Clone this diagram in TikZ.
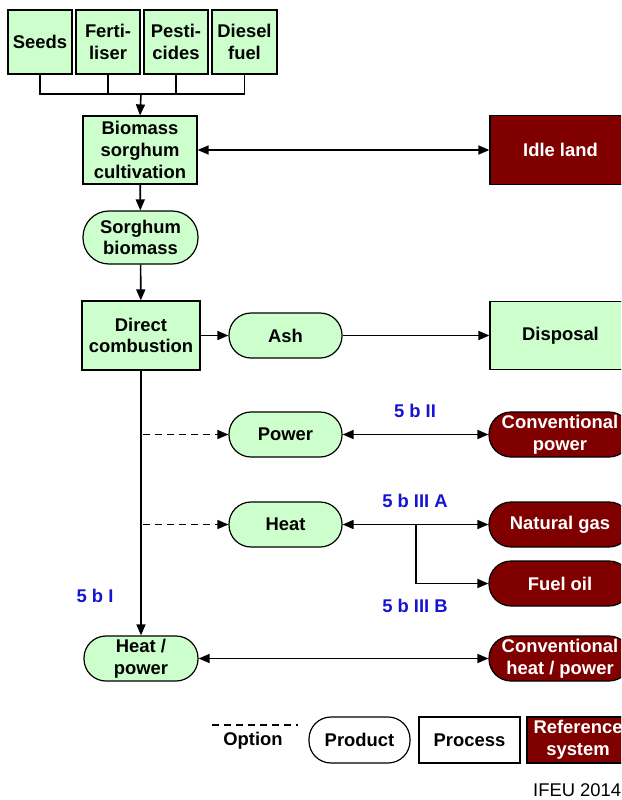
\documentclass[tikz,border=0pt]{standalone}
\usepackage{fontspec}
\setmainfont{Liberation Sans}
\usetikzlibrary{arrows.meta}
\definecolor{prodgreen}{RGB}{204,255,204}
\definecolor{refred}{RGB}{128,0,0}
\definecolor{labelblue}{RGB}{20,20,210}
\begin{document}
\begin{tikzpicture}[x=1pt,y=-1pt,
  font=\fontsize{18.4}{21.7}\selectfont\bfseries,
  base/.style={draw=black,line width=1.2pt,inner sep=0pt,align=center},
  process/.style={base,fill=prodgreen,rectangle},
  product/.style={base,fill=prodgreen,rectangle,rounded corners=22pt},
  refbox/.style={base,fill=refred,text=white,rectangle},
  refprod/.style={base,fill=refred,text=white,rectangle,rounded corners=22pt},
  conn/.style={line width=1.6pt,-{Triangle[length=11pt,width=9pt]}},
  biconn/.style={line width=1.6pt,{Triangle[length=11pt,width=9pt]}-{Triangle[length=11pt,width=9pt]}},
  plain/.style={line width=1.6pt},
  option/.style={line width=1.4pt,dash pattern=on 7pt off 5pt},
  tag/.style={text=labelblue,inner sep=0pt}]
\useasboundingbox (0,0) rectangle (621,800);
\clip (0,0) rectangle (621,800);

% inputs to cultivation
\node[process,minimum width=64pt,minimum height=64pt] (seeds) at (40,42) {Seeds};
\node[process,minimum width=64pt,minimum height=64pt] (fert) at (108,42) {Ferti-\\liser};
\node[process,minimum width=64pt,minimum height=64pt] (pest) at (176,42) {Pesti-\\cides};
\node[process,minimum width=65pt,minimum height=64pt] (diesel) at (244.5,42) {Diesel\\fuel};

% main chain
\node[process,minimum width=114pt,minimum height=68pt] (cult) at (140,150) {Biomass\\sorghum\\cultivation};
\node[refbox,minimum width=141pt,minimum height=69pt] (idle) at (560.5,150) {Idle land};
\node[product,minimum width=115pt,minimum height=53pt,rounded corners=26pt] (sorg) at (140.5,237.5) {Sorghum\\biomass};
\node[process,minimum width=118pt,minimum height=69pt] (comb) at (141,335.5) {Direct\\combustion};
\node[product,minimum width=113pt,minimum height=45pt] (ash) at (285.5,335.5) {Ash};
\node[process,minimum width=141pt,minimum height=68pt] (disp) at (560.5,335.5) {Disposal};

% energy products and substituted systems
\node[product,minimum width=113pt,minimum height=45pt] (power) at (285.5,434.5) {Power};
\node[refprod,minimum width=142pt,minimum height=45pt] (cpower) at (560,434.5) {Conventional\\power};
\node[product,minimum width=113pt,minimum height=45pt] (heat) at (285.5,524.5) {Heat};
\node[refprod,minimum width=142pt,minimum height=45pt] (ngas) at (560,524.5) {Natural gas};
\node[refprod,minimum width=142pt,minimum height=45pt] (foil) at (560,583.5) {Fuel oil};
\node[product,minimum width=114pt,minimum height=45pt] (hp) at (141,658.5) {Heat /\\power};
\node[refprod,minimum width=142pt,minimum height=45pt] (chp) at (560,658.5) {Conventional\\heat / power};

% connectors
\coordinate (bar) at (141,94);
\draw[plain] (seeds.south) |- (diesel.south |- bar) -- (diesel.south);
\draw[plain] (fert.south) -- (fert.south |- bar);
\draw[plain] (pest.south) -- (pest.south |- bar);
\draw[conn] (bar) -- (cult.north);
\draw[biconn] (cult.east) -- (cult.east -| idle.west);
\draw[conn] (cult) -- (sorg);
\draw[conn] (sorg) -- (comb);
\draw[conn] (comb.east |- ash.west) -- (ash.west);
\draw[conn] (ash.east) -- (ash.east -| disp.west);
\draw[conn] (comb.south) -- (hp.north);
\coordinate (pj) at (comb.south |- power.west);
\coordinate (hj) at (comb.south |- heat.west);
\draw[option,-{Triangle[length=11pt,width=9pt]}] ([xshift=2pt]pj) -- (power.west);
\draw[option,-{Triangle[length=11pt,width=9pt]}] ([xshift=2pt]hj) -- (heat.west);
\draw[biconn] (power.east) -- (cpower.west);
\draw[biconn] (heat.east) -- (ngas.west);
\coordinate (hb) at (416,524.5);
\draw[line width=1.6pt,-{Triangle[length=11pt,width=9pt]}] (hb) |- (foil.west);
\draw[biconn] (hp.east) -- (chp.west);

% case labels
\node[tag] (l1) at (95,596) {5 b I};
\node[tag] (l2) at (415,411) {5 b II};
\node[tag] (l3) at (415,501) {5 b III A};
\node[tag] (l4) at (415,606) {5 b III B};

% legend
\coordinate (opta) at (212,725);
\coordinate (optb) at (298,725);
\draw[option] (opta) -- (optb);
\node (opttxt) at (253,741) {Option};
\node[base,rounded corners=22pt,minimum width=101pt,minimum height=46pt] (lprod) at (359.5,740) {Product};
\node[base,minimum width=101pt,minimum height=46pt] (lproc) at (469.5,740) {Process};
\node[refbox,minimum width=102pt,minimum height=46pt] (lref) at (578,740) {Reference\\system};
\node[anchor=west,inner sep=0pt,font=\fontsize{18.4}{21.7}\selectfont] (credit) at (533,790) {IFEU 2014};
\end{tikzpicture}
\end{document}
